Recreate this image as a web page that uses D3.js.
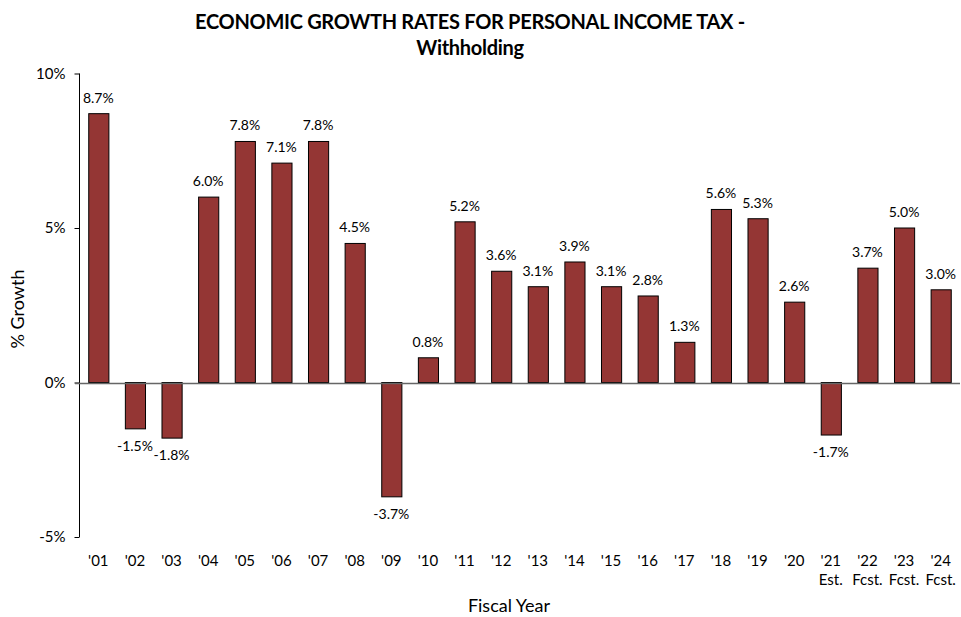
<!DOCTYPE html>
<html><head><meta charset="utf-8">
<script src="https://cdn.jsdelivr.net/npm/d3@7"></script>
<style>body{margin:0;background:#fff}svg{display:block}text{font-family:Lato,"Open Sans",sans-serif;fill:#000}</style>
</head><body><svg id="c" width="961" height="617"></svg>
<script>
const years = ["'01","'02","'03","'04","'05","'06","'07","'08","'09","'10","'11","'12","'13","'14","'15","'16","'17","'18","'19","'20","'21","'22","'23","'24"];
const subLabels = ["","","","","","","","","","","","","","","","","","","","","Est.","Fcst.","Fcst.","Fcst."];
const growth = [8.7,-1.5,-1.8,6.0,7.8,7.1,7.8,4.5,-3.7,0.8,5.2,3.6,3.1,3.9,3.1,2.8,1.3,5.6,5.3,2.6,-1.7,3.7,5.0,3.0];
const yTicks = [-5,0,5,10];

const svg = d3.select("#c");
const x = d3.scaleBand().domain(years).range([80,959]).paddingInner(0.45).paddingOuter(0.225);
const y = d3.scaleLinear().domain([-5,10]).range([537,73.5]);

svg.append("text").attr("x",470).attr("y",29).attr("text-anchor","middle").attr("font-weight","bold").attr("font-size",20).attr("letter-spacing",-0.3).text("ECONOMIC GROWTH RATES FOR PERSONAL INCOME TAX -");
svg.append("text").attr("x",470).attr("y",55).attr("text-anchor","middle").attr("font-weight","bold").attr("font-size",20).attr("letter-spacing",-0.3).text("Withholding");

const yAxis = svg.append("g").attr("transform","translate(79.5,0)")
  .call(d3.axisLeft(y).tickValues(yTicks).tickSize(5).tickFormat(d=>d+"%"));
yAxis.select(".domain").attr("stroke","#000").attr("d","M0,"+y(10)+"V"+y(-5));
yAxis.selectAll(".tick line").attr("stroke","#000");
yAxis.selectAll(".tick text").attr("font-size",15).attr("x",-14).style("font-family","Lato");

svg.selectAll("rect.bar").data(growth).enter().append("rect")
  .attr("x",(d,i)=>x(years[i])+0.5).attr("width",x.bandwidth())
  .attr("y",d=>y(Math.max(0,d))).attr("height",d=>Math.abs(y(d)-y(0)))
  .attr("fill","#943634").attr("stroke","#000").attr("stroke-width",1);

svg.append("line").attr("x1",75).attr("x2",960).attr("y1",Math.round(y(0))+0.5).attr("y2",Math.round(y(0))+0.5).attr("stroke","#666").attr("stroke-width",1.5);

svg.selectAll("text.val").data(growth).enter().append("text")
  .attr("x",(d,i)=>x(years[i])+x.bandwidth()/2).attr("y",d=>d>=0?y(d)-11:y(d)+22)
  .attr("text-anchor","middle").attr("font-size",14).text(d=>d.toFixed(1)+"%");

svg.selectAll("text.xl").data(years).enter().append("text")
  .attr("x",d=>x(d)+x.bandwidth()/2).attr("y",566).attr("text-anchor","middle").attr("font-size",15).text(d=>d);
svg.selectAll("text.xs").data(subLabels).enter().append("text")
  .attr("x",(d,i)=>x(years[i])+x.bandwidth()/2).attr("y",585).attr("text-anchor","middle").attr("font-size",15).text(d=>d);

svg.append("text").attr("transform","translate(24,309) rotate(-90)").attr("text-anchor","middle").attr("font-size",18).text("% Growth");
svg.append("text").attr("x",509).attr("y",612).attr("text-anchor","middle").attr("font-size",18).text("Fiscal Year");
</script></body></html>
